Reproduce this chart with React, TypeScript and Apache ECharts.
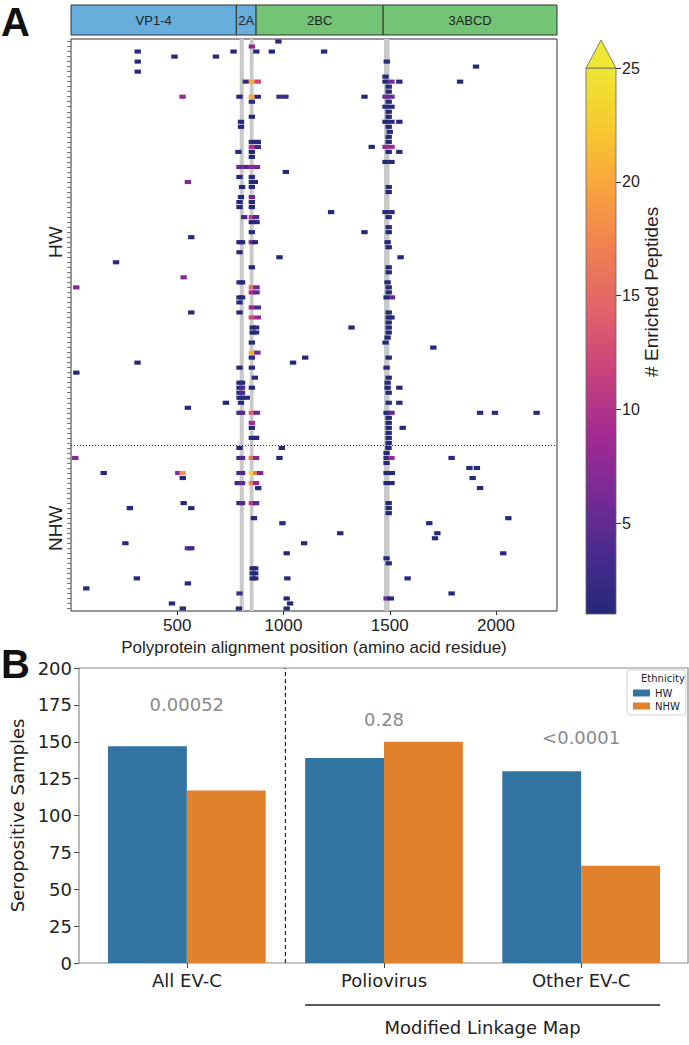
import React, { useEffect, useRef } from 'react';
import * as echarts from 'echarts';

type Hit = number | [number, number];

// ---------- Panel A data ----------
const POSITION_MAX = 2287;
const PEPTIDE_SPAN = 30;
const HW_ROWS = 81;
const NHW_ROWS = 33;
const TOTAL_ROWS = HW_ROWS + NHW_ROWS;
const rowGroupNames = ['HW', 'NHW'];

const regionNames = ['VP1-4', '2A', '2BC', '3ABCD'];
const regionStarts = [0, 778, 871, 1469];
const regionEnds = [778, 871, 1469, 2287];

const conservedStarts = [794, 841, 1473];
const conservedEnds = [813, 859, 1499];

const xTickValues = [500, 1000, 1500, 2000];
const colorbarTicks = [5, 10, 15, 20, 25];
const COLOR_MIN = 1;
const COLOR_MAX = 25;
const colorbarTitle = '# Enriched Peptides';
const plasmaStops = ['#25297a', '#4a2b8e', '#7a2a96', '#a52a91', '#c9427c', '#e0636a', '#f07f52', '#f9a23e', '#f7c92f', '#eee733'];

// each row: peptide start positions, [position, count] when count > 1
const hwHits: Hit[][] = [
  [961],
  [[836, 8]],
  [299, 750, 857, 930, 1176],
  [472, 667],
  [299, 1471],
  [1891],
  [299],
  [1465],
  [[808, 2], [836, 20], [864, 12], 1465, [1493, 6], 1530, 1816],
  [1480],
  [1480],
  [[510, 8], 778, [836, 20], 864, [966, 3], [994, 2], 1366, [1465, 6], [1493, 5]],
  [836, 1480],
  [1465, 1493],
  [1480],
  [836, 1480],
  [785, 1465, 1493, 1530],
  [785, 1480],
  [1485],
  [1480],
  [836, 864, 1480],
  [[836, 10], [864, 3], 1400, [1465, 8], [1493, 8]],
  [773, 836, 1480, 1530],
  [836],
  [1465, 1493],
  [[778, 5], [808, 4], [836, 8], [860, 6]],
  [996],
  [778, 836],
  [[535, 7], 836, 850],
  [790, 836, 1480],
  [1480],
  [785, [836, 6]],
  [778, 836],
  [778, 836],
  [1209, 1465, 1493],
  [[800, 3], [836, 10], [856, 4], 1480],
  [836, 858],
  [1480],
  [836, 1366, 1480],
  [551],
  [778, 790, [836, 6], 850, 1475],
  [1480],
  [778],
  [966, 1536],
  [197],
  [836, 1480],
  [1480],
  [[515, 7]],
  [778, 790, 1475],
  [[10, 7], [836, 15], [858, 6], 1480],
  [[836, 9], [858, 4], 1480],
  [778, 790, 1470, [1495, 5]],
  [778],
  [[836, 8], [864, 3]],
  [551, 778, 1480],
  [[836, 12], [864, 8], 1480, 1493],
  [1480],
  [840, 856, 1305, 1480],
  [840, 856, 1480],
  [1475],
  [836, 1465],
  [1690],
  [[836, 20], [862, 6]],
  [836, 1087, 1480],
  [298, 1030],
  [778, 836, 1470],
  [10],
  [850, 1480],
  [778, 790, 1475],
  [778, [790, 4], 836, 1475, 1530],
  [778, [790, 4], 1480],
  [778, 790, 812],
  [714, 785, 1480, 1530],
  [535],
  [[778, 3], [790, 4], [836, 14], [860, 5], 1470, [1493, 5], 1910, 1980, 2176],
  [1480],
  [[836, 9], 1480],
  [836, 1480, 1546],
  [1480],
  [836, 856, 1480],
  [1480],
];

const nhwHits: Hit[][] = [
  [778, 977, 1479],
  [1470],
  [[5, 7], [778, 3], [790, 4], [836, 16], [856, 7], 966, 1470, [1493, 8], 1776],
  [1470],
  [1860, 1895],
  [139, [490, 7], [510, 18], [778, 3], [790, 4], [836, 24], [856, 16], [875, 6], 1470, 1495],
  [511, 1875],
  [[770, 2], [790, 5], [836, 17], [856, 8], 1470, 1493],
  [866, 1910],
  [],
  [],
  [515, 778, [790, 4], [836, 10], [856, 4], 1480],
  [262, 551, 1480],
  [1480],
  [846, 2043],
  [980, 1671],
  [],
  [1252, 1709],
  [1698],
  [241, 1082],
  [[535, 5], [551, 3]],
  [1000, 2019],
  [1470],
  [1480],
  [840, 852],
  [840, 852],
  [295, 840, 852, 1003, 1569],
  [535],
  [57],
  [[778, 3], 1776],
  [1000, [1470, 5], 1490],
  [460, 1016],
  [511, 775, 1000],
];

// ---------- Panel B data ----------
const groupLabels = ['All EV-C', 'Poliovirus', 'Other EV-C'];
const hwSeropositive = [147, 139, 130];
const nhwSeropositive = [117, 150, 66];
const pValueLabels = ['0.00052', '0.28', '<0.0001'];
const pValueHeights = [175, 165, 153];
const linkageGroupFrom = 1;
const linkageGroupTo = 2;
const linkageLabel = 'Modified Linkage Map';

const HW_COLOR = '#3274a1';
const NHW_COLOR = '#e1812c';
const FONT_A = '"Liberation Sans", Arial, sans-serif';
const FONT_B = '"DejaVu Sans", sans-serif';

function buildHeatData(): number[][] {
  const out: number[][] = [];
  [...hwHits, ...nhwHits].forEach((row, r) => {
    row.forEach((h) => {
      const pos = Array.isArray(h) ? h[0] : h;
      const v = Array.isArray(h) ? h[1] : 1;
      out.push([pos, r, v]);
    });
  });
  return out;
}

export default function App() {
  const ref = useRef<HTMLDivElement>(null);

  useEffect(() => {
    document.body.style.margin = '0';
    if (!ref.current) return;
    const chart = echarts.init(ref.current, undefined, { renderer: 'svg' });
    const heatData = buildHeatData();
    const rowTicks = Array.from({ length: TOTAL_ROWS }, (_, i) => i + 0.5);
    const halfBar = 0.4;

    const option: any = {
      animation: false,
      textStyle: { fontFamily: FONT_A },
      grid: [
        { left: 71, top: 39, width: 486, height: 572, show: true, borderColor: '#333', borderWidth: 1, backgroundColor: 'transparent' },
        { left: 71, top: 5, width: 486, height: 30 },
        { left: 586, top: 68, width: 30, height: 546 },
        { left: 78, top: 668, width: 610, height: 295, show: true, borderColor: '#8c8c8c', borderWidth: 1.2, backgroundColor: 'transparent' },
      ],
      xAxis: [
        {
          gridIndex: 0, type: 'value', min: 0, max: POSITION_MAX, interval: 500,
          axisLine: { show: false, onZero: false },
          axisTick: { show: true, length: 4, customValues: xTickValues, lineStyle: { color: '#333' } },
          axisLabel: { customValues: xTickValues, fontSize: 17, color: '#222', margin: 6, fontFamily: FONT_A, formatter: (v: number) => (v === 0 ? '' : String(v)) },
          splitLine: { show: false },
          name: 'Polyprotein alignment position (amino acid residue)',
          nameLocation: 'middle', nameGap: 25,
          nameTextStyle: { fontSize: 17, color: '#222', fontFamily: FONT_A },
        },
        { gridIndex: 1, type: 'value', min: 0, max: POSITION_MAX, show: false },
        { gridIndex: 2, type: 'value', min: 0, max: 1, show: false },
        {
          gridIndex: 3, type: 'value', min: -0.547, max: 2.542,
          axisLine: { show: false, onZero: false },
          axisTick: { show: true, length: 5, customValues: [0, 1, 2], lineStyle: { color: '#444' } },
          axisLabel: { customValues: [0, 1, 2], fontSize: 18, color: '#222', margin: 8, fontFamily: FONT_B, formatter: (v: number) => groupLabels[Math.round(v)] ?? '' },
          splitLine: { show: false },
        },
      ],
      yAxis: [
        {
          gridIndex: 0, type: 'value', min: 0, max: TOTAL_ROWS, inverse: true,
          axisLine: { show: false, onZero: false },
          axisTick: { show: true, length: 4, customValues: rowTicks, lineStyle: { color: '#555', width: 0.8 } },
          axisLabel: { show: false },
          splitLine: { show: false },
        },
        { gridIndex: 1, type: 'value', min: 0, max: 1, show: false },
        {
          gridIndex: 2, type: 'value', min: COLOR_MIN, max: COLOR_MAX, position: 'right',
          axisLine: { show: false, onZero: false },
          axisTick: { show: true, length: 5, customValues: colorbarTicks, lineStyle: { color: '#333' } },
          axisLabel: { customValues: colorbarTicks, fontSize: 16, color: '#222', margin: 6, fontFamily: FONT_A },
          splitLine: { show: false },
        },
        {
          gridIndex: 3, type: 'value', min: 0, max: 200, interval: 25,
          axisLine: { show: false, onZero: false },
          axisTick: { show: true, length: 5, lineStyle: { color: '#444' } },
          axisLabel: { fontSize: 18, color: '#222', margin: 7, fontFamily: FONT_B },
          splitLine: { show: false },
          name: 'Seropositive Samples', nameLocation: 'middle', nameGap: 53,
          nameTextStyle: { fontSize: 18, color: '#222', fontFamily: FONT_B },
        },
      ],
      visualMap: {
        type: 'continuous', show: false, min: COLOR_MIN, max: COLOR_MAX, dimension: 2, seriesIndex: 1,
        inRange: { color: plasmaStops },
      },
      legend: {
        data: ['HW', 'NHW'], orient: 'vertical', left: 627, top: 670,
        padding: [18, 6, 4, 6], itemGap: 3, itemWidth: 17, itemHeight: 7, icon: 'rect',
        borderColor: '#d0d0d0', borderWidth: 1, borderRadius: 3, backgroundColor: '#fff',
        textStyle: { fontSize: 10, color: '#222', fontFamily: FONT_B },
        selectedMode: false,
      },
      series: [
        {
          type: 'custom', name: 'conserved', xAxisIndex: 0, yAxisIndex: 0, z: 1,
          data: conservedStarts.map((s, i) => [s, conservedEnds[i]]),
          encode: { x: [0, 1] },
          renderItem: (_p: any, api: any) => {
            const a = api.coord([api.value(0), 0]);
            const b = api.coord([api.value(1), TOTAL_ROWS]);
            return { type: 'rect', shape: { x: a[0], y: a[1], width: b[0] - a[0], height: b[1] - a[1] }, style: { fill: '#c9c9c9' } };
          },
        },
        {
          type: 'custom', name: 'peptides', xAxisIndex: 0, yAxisIndex: 0, z: 2,
          data: heatData,
          encode: { x: 0, y: 1 },
          renderItem: (_p: any, api: any) => {
            const x = api.value(0);
            const r = api.value(1);
            const a = api.coord([x, r]);
            const b = api.coord([x + PEPTIDE_SPAN, r + 1]);
            return {
              type: 'rect',
              shape: { x: a[0], y: a[1] + 0.45, width: b[0] - a[0], height: b[1] - a[1] - 0.9 },
              style: { fill: api.visual('color') },
            };
          },
        },
        {
          type: 'custom', name: 'divider', xAxisIndex: 0, yAxisIndex: 0, z: 3,
          data: [[HW_ROWS]],
          encode: { y: 0 },
          renderItem: (_p: any, api: any) => {
            const a = api.coord([0, api.value(0)]);
            const b = api.coord([POSITION_MAX, api.value(0)]);
            return { type: 'line', shape: { x1: a[0], y1: a[1], x2: b[0], y2: b[1] }, style: { stroke: '#222', lineWidth: 1, lineDash: [1, 2] } };
          },
        },
        {
          type: 'custom', name: 'groups', xAxisIndex: 0, yAxisIndex: 0, z: 3, clip: false,
          data: [[HW_ROWS / 2, 0], [HW_ROWS + NHW_ROWS / 2, 1]],
          encode: { y: 0 },
          renderItem: (_p: any, api: any) => {
            const a = api.coord([0, api.value(0)]);
            return {
              type: 'text', x: a[0] - 16, y: a[1], rotation: Math.PI / 2,
              style: { text: rowGroupNames[api.value(1)], fill: '#222', font: `19px ${FONT_A}`, align: 'center', verticalAlign: 'middle' },
            };
          },
        },
        {
          type: 'custom', name: 'regions', xAxisIndex: 1, yAxisIndex: 1, clip: false,
          data: regionStarts.map((s, i) => [s, regionEnds[i], i]),
          encode: { x: [0, 1] },
          renderItem: (_p: any, api: any) => {
            const i = api.value(2);
            const a = api.coord([api.value(0), 1]);
            const b = api.coord([api.value(1), 0]);
            return {
              type: 'group',
              children: [
                { type: 'rect', shape: { x: a[0], y: a[1], width: b[0] - a[0], height: b[1] - a[1] }, style: { fill: i < 2 ? '#68aedc' : '#74c476', stroke: '#333', lineWidth: 1 } },
                { type: 'text', x: (a[0] + b[0]) / 2, y: (a[1] + b[1]) / 2, style: { text: regionNames[i], fill: '#222', font: `13px ${FONT_A}`, align: 'center', verticalAlign: 'middle' } },
              ],
            };
          },
        },
        {
          type: 'custom', name: 'colorbar', xAxisIndex: 2, yAxisIndex: 2, clip: false,
          data: [[COLOR_MIN, COLOR_MAX]],
          encode: { y: [0, 1] },
          renderItem: (_p: any, api: any) => {
            const top = api.coord([0, api.value(1)]);
            const bot = api.coord([1, api.value(0)]);
            const w = bot[0] - top[0];
            const stops = plasmaStops.map((c, i) => ({ offset: i / (plasmaStops.length - 1), color: c }));
            return {
              type: 'group',
              children: [
                { type: 'rect', shape: { x: top[0], y: top[1], width: w, height: bot[1] - top[1] }, style: { fill: new echarts.graphic.LinearGradient(0, 1, 0, 0, stops), stroke: '#666', lineWidth: 0.8 } },
                { type: 'polygon', shape: { points: [[top[0], top[1]], [top[0] + w / 2, top[1] - 28], [bot[0], top[1]]] }, style: { fill: plasmaStops[plasmaStops.length - 1], stroke: '#666', lineWidth: 0.8 } },
                { type: 'text', x: bot[0] + 35, y: top[1] + (bot[1] - top[1]) * 0.41, rotation: Math.PI / 2, style: { text: colorbarTitle, fill: '#222', font: `19px ${FONT_A}`, align: 'center', verticalAlign: 'middle' } },
              ],
            };
          },
        },
        {
          type: 'custom', name: 'HW', xAxisIndex: 3, yAxisIndex: 3, itemStyle: { color: HW_COLOR },
          data: hwSeropositive.map((v, i) => [i, v]),
          encode: { x: 0, y: 1 },
          renderItem: (_p: any, api: any) => {
            const c = api.value(0);
            const a = api.coord([c - halfBar, api.value(1)]);
            const b = api.coord([c, 0]);
            return { type: 'rect', shape: { x: a[0], y: a[1], width: b[0] - a[0], height: b[1] - a[1] }, style: { fill: HW_COLOR } };
          },
        },
        {
          type: 'custom', name: 'NHW', xAxisIndex: 3, yAxisIndex: 3, itemStyle: { color: NHW_COLOR },
          data: nhwSeropositive.map((v, i) => [i, v]),
          encode: { x: 0, y: 1 },
          renderItem: (_p: any, api: any) => {
            const c = api.value(0);
            const a = api.coord([c, api.value(1)]);
            const b = api.coord([c + halfBar, 0]);
            return { type: 'rect', shape: { x: a[0], y: a[1], width: b[0] - a[0], height: b[1] - a[1] }, style: { fill: NHW_COLOR } };
          },
        },
        {
          type: 'custom', name: 'separator', xAxisIndex: 3, yAxisIndex: 3,
          data: [[0.5]],
          encode: { x: 0 },
          renderItem: (_p: any, api: any) => {
            const a = api.coord([api.value(0), 0]);
            const b = api.coord([api.value(0), 200]);
            return { type: 'line', shape: { x1: a[0], y1: a[1], x2: b[0], y2: b[1] }, style: { stroke: '#222', lineWidth: 1.2, lineDash: [4, 3] } };
          },
        },
        {
          type: 'custom', name: 'pvalues', xAxisIndex: 3, yAxisIndex: 3,
          data: pValueHeights.map((h, i) => [i, h]),
          encode: { x: 0, y: 1 },
          renderItem: (_p: any, api: any) => {
            const a = api.coord([api.value(0), api.value(1)]);
            return { type: 'text', x: a[0], y: a[1], style: { text: pValueLabels[_p.dataIndex], fill: '#8a8a8a', font: `18px ${FONT_B}`, align: 'center', verticalAlign: 'middle' } };
          },
        },
        {
          type: 'custom', name: 'linkage', xAxisIndex: 3, yAxisIndex: 3, clip: false,
          data: [[linkageGroupFrom - halfBar, linkageGroupTo + halfBar]],
          encode: { x: [0, 1] },
          renderItem: (_p: any, api: any) => {
            const a = api.coord([api.value(0), 0]);
            const b = api.coord([api.value(1), 0]);
            return {
              type: 'group',
              children: [
                { type: 'line', shape: { x1: a[0], y1: a[1] + 42, x2: b[0], y2: b[1] + 42 }, style: { stroke: '#222', lineWidth: 1.3 } },
                { type: 'text', x: (a[0] + b[0]) / 2, y: a[1] + 64, style: { text: linkageLabel, fill: '#222', font: `18px ${FONT_B}`, align: 'center', verticalAlign: 'middle' } },
              ],
            };
          },
        },
      ],
      graphic: [
        { type: 'text', left: 1, top: 2, style: { text: 'A', font: `bold 40px ${FONT_A}`, fill: '#111' } },
        { type: 'text', left: 1, top: 644, style: { text: 'B', font: `bold 40px ${FONT_A}`, fill: '#111' } },
        { type: 'text', left: 641, top: 673, style: { text: 'Ethnicity', font: `10px ${FONT_B}`, fill: '#222' }, z: 100 },
      ],
    };

    chart.setOption(option);
    return () => chart.dispose();
  }, []);

  return <div ref={ref} style={{ width: 689, height: 1045 }} />;
}
